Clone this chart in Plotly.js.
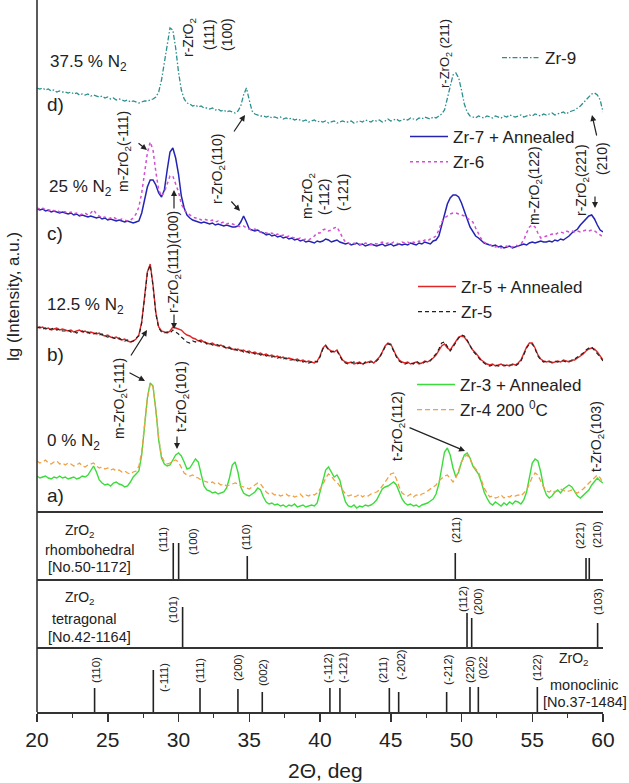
<!DOCTYPE html>
<html>
<head>
<meta charset="utf-8">
<script src="https://cdn.plot.ly/plotly-3.0.1.min.js"></script>
<style>html,body{margin:0;padding:0;background:#fff;}#chart{width:629px;height:783px;}</style>
</head>
<body>
<div id="chart"></div>
<script>
// 2-theta sampling grid, 20..60 deg, 0.2 deg step
const twoTheta = Array.from({length: 201}, (_, i) => Math.round((20 + 0.2 * i) * 10) / 10);

// lg(Intensity), arbitrary units (curves stacked)
const zr9 = [
424,423,424,422,423,421,422,420,421,420,
420,419,420,418,419,417,418,417,418,416,
417,416,415,416,414,415,413,414,412,413,
412,411,412,410,411,410,409,410,411,411,
412,413,415,420,432,450,470,484,482,464,
440,422,413,409,408,406,407,405,406,404,
404,403,404,402,403,401,402,400,401,400,
399,401,406,417,424,412,401,398,397,396,
396,395,396,394,395,394,395,393,394,393,
394,392,393,392,391,392,390,391,392,390,
391,390,391,389,390,391,389,390,391,390,
390,391,389,390,391,390,392,391,390,392,
391,392,390,391,393,391,392,393,391,392,
393,392,394,393,392,394,393,395,394,393,
395,394,396,398,402,414,428,437,439,434,
422,408,400,396,395,394,396,395,394,396,
395,394,396,395,394,396,395,397,396,395,
396,397,395,396,397,396,398,397,396,398,
397,398,399,397,398,399,400,398,400,401,
402,404,406,409,412,415,418,419,417,412,
400];

const zr7Annealed = [
303,302,303,301,302,300,301,300,299,300,
299,298,299,297,298,296,297,296,295,296,
295,294,295,293,294,292,293,292,291,292,
291,290,291,290,289,290,291,299,313,325,
332,332,327,319,315,322,342,360,364,354,
338,316,304,297,294,292,291,290,289,290,
289,288,289,287,288,287,286,287,286,285,
285,286,290,296,290,283,282,281,282,280,
279,277,278,276,277,275,276,274,275,273,
274,272,273,271,272,270,271,270,269,271,
270,271,273,272,270,271,272,270,269,268,
269,267,268,269,267,268,266,267,268,267,
266,267,268,266,267,268,266,267,268,267,
268,267,269,268,267,269,268,270,269,268,
271,272,276,286,298,308,314,317,317,315,
309,302,293,285,280,276,274,271,269,268,
267,266,267,265,266,264,265,266,264,265,
266,267,268,267,269,270,269,270,271,270,
270,271,270,272,271,273,272,274,276,279,
281,283,287,290,293,296,297,293,287,282,
280];

const zr6 = [
304,303,304,302,301,303,301,302,300,301,
300,299,300,298,299,297,298,299,297,299,
302,298,296,294,295,293,294,295,293,292,
293,292,291,292,294,298,305,319,340,359,
370,362,340,322,316,320,328,336,336,329,
320,308,302,299,297,295,294,294,292,293,
292,291,292,290,291,289,290,288,289,288,
287,286,285,286,284,283,282,283,281,280,
280,279,278,279,277,278,276,277,275,276,
275,274,273,274,272,273,272,274,276,279,
279,282,283,281,282,284,285,280,274,270,
269,268,269,267,268,267,269,268,267,269,
268,269,270,268,269,268,270,269,268,270,
269,270,268,270,269,271,270,272,271,273,
274,276,282,290,294,296,298,299,299,298,
297,296,294,292,290,284,278,273,270,268,
267,266,265,266,264,265,266,264,265,267,
266,268,272,279,285,287,285,279,274,275,
276,277,278,277,279,280,279,281,280,281,
280,281,280,281,282,281,282,281,279,277,
275];

const zr5Annealed = [
185,184,185,183,184,182,183,184,182,183,
182,181,182,180,181,182,180,181,179,180,
179,178,179,177,176,177,175,174,175,173,
172,173,171,170,171,173,177,190,215,240,
248,227,199,185,181,180,179,181,185,184,
183,182,179,177,176,174,173,171,172,170,
169,168,169,167,166,167,165,164,165,163,
162,163,161,162,160,161,159,160,158,159,
157,158,156,157,155,156,154,155,153,154,
153,152,153,151,152,150,151,150,149,151,
156,164,167,163,161,160,162,157,152,150,
149,150,148,149,150,148,149,150,151,149,
152,155,160,166,169,168,162,156,152,150,
149,150,148,149,150,148,149,151,150,152,
154,157,161,166,168,164,162,166,171,175,
176,175,171,166,162,159,155,152,150,148,
147,148,146,147,148,146,147,146,148,147,
149,152,158,165,169,169,164,157,153,151,
150,151,149,150,151,150,152,151,150,152,
152,154,156,158,161,163,164,163,160,156,
152];

const zr5 = [
184,185,183,184,182,183,184,182,183,181,
181,182,180,181,179,180,181,179,180,178,
178,179,177,178,176,175,176,174,173,174,
172,171,172,170,171,174,176,189,214,239,
247,226,198,184,180,179,180,179,182,180,
178,175,172,170,169,171,170,172,170,171,
168,169,167,168,167,165,166,163,164,162,
163,161,162,160,161,159,160,158,159,157,
158,156,157,155,156,154,155,153,154,152,
152,153,151,152,150,151,149,150,151,150,
155,163,166,162,160,161,161,156,151,149,
148,149,150,148,149,147,150,149,150,150,
151,154,159,165,168,167,161,155,151,149,
148,149,149,148,151,149,148,150,151,151,
155,158,163,169,170,165,161,165,170,174,
177,176,172,167,161,158,154,151,149,147,
146,147,147,146,147,147,146,147,147,146,
148,151,157,164,168,168,163,156,152,150,
151,150,150,151,150,151,151,150,151,151,
153,155,157,159,162,164,165,162,159,155,
151];

const zr3Annealed = [
36,34,35,36,34,33,35,34,36,34,
35,33,34,35,33,34,36,35,37,42,
46,40,32,29,27,28,26,29,30,28,
27,25,26,30,35,38,41,57,84,114,
129,126,102,72,54,48,46,47,52,57,
59,56,50,43,44,49,53,50,38,26,
22,21,19,20,18,19,20,24,34,47,
50,40,25,19,17,16,18,20,24,22,
15,10,8,9,7,8,6,7,5,7,
6,8,5,6,7,5,6,7,6,9,
20,32,42,45,40,35,37,32,20,10,
6,5,7,4,6,5,7,6,7,9,
12,18,23,25,26,28,30,27,20,13,
9,7,8,6,7,5,7,8,9,11,
13,18,28,44,60,64,57,44,35,40,
50,57,59,54,46,42,38,30,20,14,
9,7,10,8,6,9,7,10,8,11,
10,8,12,20,34,49,53,51,40,25,
17,14,16,20,22,19,23,25,27,25,
20,16,14,17,19,22,27,31,34,31,
29];

const zr4_200C = [
51,49,50,52,49,48,50,51,48,49,
47,49,48,46,47,49,46,45,47,48,
49,46,44,45,43,44,42,43,41,42,
40,41,39,38,40,41,46,60,85,114,
128,125,102,74,56,50,48,49,51,52,
50,44,39,37,36,37,35,34,32,31,
30,29,30,28,29,27,28,26,27,28,
29,28,26,25,24,23,25,27,29,28,
24,20,18,19,17,18,16,17,18,16,
17,15,16,18,15,17,16,18,17,19,
23,27,34,38,36,32,30,26,21,18,
16,17,15,16,18,15,17,16,18,19,
20,22,26,29,33,38,39,33,25,19,
17,16,18,15,17,16,18,19,21,23,
25,27,31,34,36,37,33,30,34,42,
50,55,57,53,47,43,40,32,24,19,
15,16,14,15,17,14,16,15,17,16,
17,16,19,22,28,35,39,37,31,25,
21,20,22,20,21,23,22,20,21,22,
20,19,21,23,26,29,32,35,37,34,
29];

// Reference patterns (stick positions, deg; relative heights)
const rhombPos = [29.63, 30.01, 34.86, 49.56, 58.80, 59.03];
const rhombInt = [37, 37, 24, 27, 22, 22];
const rhombHkl = ['(111)', '(100)', '(110)', '(211)', '(221)', '(210)'];

const tetraPos = [30.29, 50.39, 50.72, 59.62];
const tetraInt = [41, 35, 30, 25];
const tetraHkl = ['(101)', '(112)', '(200)', '(103)'];

const monoPos = [24.07, 28.22, 31.52, 34.20, 35.92, 40.70, 41.41, 44.90, 45.56, 48.95, 50.60, 51.19, 55.36];
const monoInt = [24, 42, 24, 23, 20, 24, 24, 24, 20, 20, 25, 25, 25];
const monoHkl = ['(110)', '(-111)', '(111)', '(200)', '(002)', '(-112)', '(-121)', '(211)', '(-202)', '(-212)', '(220)', '(022', '(122)'];

const xTickVals = [20, 25, 30, 35, 40, 45, 50, 55, 60];

// ---------- layout helpers (pixel -> paper) ----------
const L = 37, W = 566, H = 712;
const PX = px => (px - L) / W;
const PY = py => (H - py) / H;
const FONT = 'Arial, "Liberation Sans", Helvetica, sans-serif';
const INK = '#222';

function sticks(pos, inten, yaxis) {
  const x = [], y = [];
  pos.forEach((p, i) => { x.push(p, p, null); y.push(0, inten[i], null); });
  return {x, y, yaxis, xaxis: 'x', mode: 'lines', line: {color: INK, width: 1.6},
          showlegend: false, hoverinfo: 'skip'};
}

function curve(y, name, color, dash, legend, width) {
  return {x: twoTheta, y, name, mode: 'lines', xaxis: 'x', yaxis: 'y',
          line: {color, width: width || 1.3, dash: dash || 'solid'}, legend};
}

const traces = [
  curve(zr9, 'Zr-9', '#2b8f8c', '5px,2px,1.5px,2px', 'legend'),
  curve(zr7Annealed, 'Zr-7 + Annealed', '#2424b4', 'solid', 'legend2', 1.5),
  curve(zr6, 'Zr-6', '#d24ed2', 'dot', 'legend2', 1.5),
  curve(zr5Annealed, 'Zr-5 + Annealed', '#e02626', 'solid', 'legend3', 1.4),
  curve(zr5, 'Zr-5', '#222222', '4px,3px', 'legend3', 1.2),
  curve(zr3Annealed, 'Zr-3 + Annealed', '#3cdc3c', 'solid', 'legend4', 1.4),
  curve(zr4_200C, 'Zr-4 200 <sup>0</sup>C', '#f0a044', '5px,3px', 'legend4', 1.3),
  sticks(rhombPos, rhombInt, 'y2'),
  sticks(tetraPos, tetraInt, 'y3'),
  sticks(monoPos, monoInt, 'y4')
];

function txt(text, px, py, o) {
  o = o || {};
  return {text, xref: 'paper', yref: 'paper', x: PX(px), y: PY(py), showarrow: false,
          textangle: o.angle || 0, xanchor: o.xa || 'center', yanchor: o.ya || 'middle',
          font: {family: FONT, size: o.size || 14, color: INK}};
}
function arrow(tx, ty, hx, hy) {
  return {text: '', xref: 'paper', yref: 'paper', x: PX(hx), y: PY(hy),
          ax: tx - hx, ay: ty - hy, axref: 'pixel', ayref: 'pixel', showarrow: true,
          arrowhead: 2, arrowsize: 1, arrowwidth: 1.2, arrowcolor: INK, standoff: 0, startstandoff: 0};
}
const R = -90;

const annotations = [
  // sample labels
  txt('37.5 % N<sub>2</sub>', 48, 63, {xa: 'left', size: 17}),
  txt('d)', 45, 104, {xa: 'left', size: 19}),
  txt('25 % N<sub>2</sub>', 47, 188, {xa: 'left', size: 17}),
  txt('c)', 45, 234, {xa: 'left', size: 19}),
  txt('12.5 % N<sub>2</sub>', 45, 306, {xa: 'left', size: 17}),
  txt('b)', 45, 354, {xa: 'left', size: 19}),
  txt('0 % N<sub>2</sub>', 45, 442, {xa: 'left', size: 17}),
  txt('a)', 45, 496, {xa: 'left', size: 19}),
  // peak assignments
  txt('r-ZrO<sub>2</sub>', 189, 38, {angle: R}),
  txt('(111)', 209, 35, {angle: R}),
  txt('(100)', 227, 35, {angle: R}),
  txt('r-ZrO<sub>2</sub> (211)', 445, 54, {angle: R, size: 13}),
  txt('m-ZrO<sub>2</sub>(-111)', 124, 152, {angle: R}),
  txt('r-ZrO<sub>2</sub>(110)', 218, 169, {angle: R}),
  txt('r-ZrO<sub>2</sub>(111)(100)', 174, 262, {angle: R}),
  txt('m-ZrO<sub>2</sub>', 308, 196, {angle: R}),
  txt('(-112)', 324, 197, {angle: R}),
  txt('(-121)', 343, 193, {angle: R}),
  txt('m-ZrO<sub>2</sub>(122)', 535, 186, {angle: R}),
  txt('r-ZrO<sub>2</sub>(221)', 582, 180, {angle: R}),
  txt('(210)', 602, 159, {angle: R}),
  txt('m-ZrO<sub>2</sub>(-111)', 120, 398, {angle: R}),
  txt('t-ZrO<sub>2</sub>(101)', 182, 397, {angle: R}),
  txt('t-ZrO<sub>2</sub>(112)', 398, 426, {angle: R}),
  txt('t-ZrO<sub>2</sub>(103)', 597, 437, {angle: R}),
  arrow(137, 142, 147, 150),
  arrow(233, 133, 245, 115),
  arrow(230, 200, 240, 211),
  arrow(174, 210, 174, 190),
  arrow(174, 313, 174, 329),
  arrow(130, 357, 147, 330),
  arrow(128, 372, 145, 381),
  arrow(177, 435, 177, 449),
  arrow(408, 427, 465, 451),
  arrow(595, 195, 595, 208),
  arrow(597, 137, 592, 115),
  // panel titles
  txt('ZrO<sub>2</sub>', 80, 531),
  txt('rhombohedral', 89, 550, {size: 14.5}),
  txt('[No.50-1172]', 89, 567, {size: 14.5}),
  txt('ZrO<sub>2</sub>', 80, 598),
  txt('tetragonal', 84, 619, {size: 14.5}),
  txt('[No.42-1164]', 89, 637, {size: 14.5}),
  txt('ZrO<sub>2</sub>', 574, 659),
  txt('monoclinic', 584, 685, {size: 14.5}),
  txt('[No.37-1484]', 585, 702, {size: 14.5}),
  // axis titles
  txt('2Θ, deg', 325, 770, {size: 21}),
  txt('lg (Intensity, a.u.)', 13, 297, {angle: R, size: 17})
];

// stick labels (positions in px, text from hkl arrays)
const rhombLab = [[163, 540], [193, 542], [246, 537], [456, 530], [580, 536], [597, 535]];
const tetraLab = [[173, 610], [463, 599], [478, 602], [598, 602]];
const monoLab = [[96, 670], [164, 678], [200, 671], [238, 668], [263, 673], [328, 668], [343, 668],
                 [383, 670], [401, 665], [448, 670], [470, 670], [483, 668], [537, 668]];
[[rhombHkl, rhombLab], [tetraHkl, tetraLab], [monoHkl, monoLab]].forEach(([hkl, lab]) => {
  hkl.forEach((t, i) => annotations.push(txt(t, lab[i][0], lab[i][1], {angle: R, size: 11.5})));
});

const sepLine = py => ({type: 'line', xref: 'paper', yref: 'paper', x0: 0, x1: 1, y0: PY(py), y1: PY(py),
                        line: {color: '#333', width: 2}});
const shapes = [
  {type: 'line', xref: 'paper', yref: 'paper', x0: 0, x1: 0, y0: 0, y1: 1, line: {color: '#333', width: 1.6}},
  sepLine(512), sepLine(580), sepLine(648)
];

const legendBase = (px, py) => ({x: PX(px), y: PY(py), xanchor: 'left', yanchor: 'top',
  bgcolor: 'rgba(0,0,0,0)', borderwidth: 0, itemwidth: 38, tracegroupgap: 0,
  font: {family: FONT, size: 17, color: INK}});

const hiddenY = (domain, range) => ({domain, range, showticklabels: false, showgrid: false,
  zeroline: false, showline: false, ticks: '', fixedrange: true});

const layout = {
  width: 629, height: 783,
  margin: {l: L, r: 26, t: 0, b: 71, pad: 0},
  paper_bgcolor: '#fff', plot_bgcolor: '#fff',
  font: {family: FONT, color: INK},
  showlegend: true,
  legend: legendBase(497, 40),
  legend2: legendBase(405, 119),
  legend3: legendBase(413, 269),
  legend4: legendBase(412, 367),
  xaxis: {range: [20, 60], tickvals: xTickVals, ticks: 'outside', ticklen: 8, tickwidth: 1.5,
          tickcolor: '#333', showline: true, linewidth: 2, linecolor: '#333', showgrid: false,
          zeroline: false, anchor: 'y4', tickfont: {family: FONT, size: 21, color: INK},
          minor: {dtick: 2.5, tick0: 20, ticks: 'outside', ticklen: 4, tickwidth: 1.2, tickcolor: '#333', showgrid: false},
          fixedrange: true},
  yaxis: hiddenY([PY(512), 1], [0, 512]),
  yaxis2: hiddenY([PY(580), PY(512)], [0, 68]),
  yaxis3: hiddenY([PY(648), PY(580)], [0, 68]),
  yaxis4: hiddenY([0, PY(648)], [0, 64]),
  annotations, shapes
};

Plotly.newPlot('chart', traces, layout, {staticPlot: true, displayModeBar: false});
</script>
</body>
</html>
